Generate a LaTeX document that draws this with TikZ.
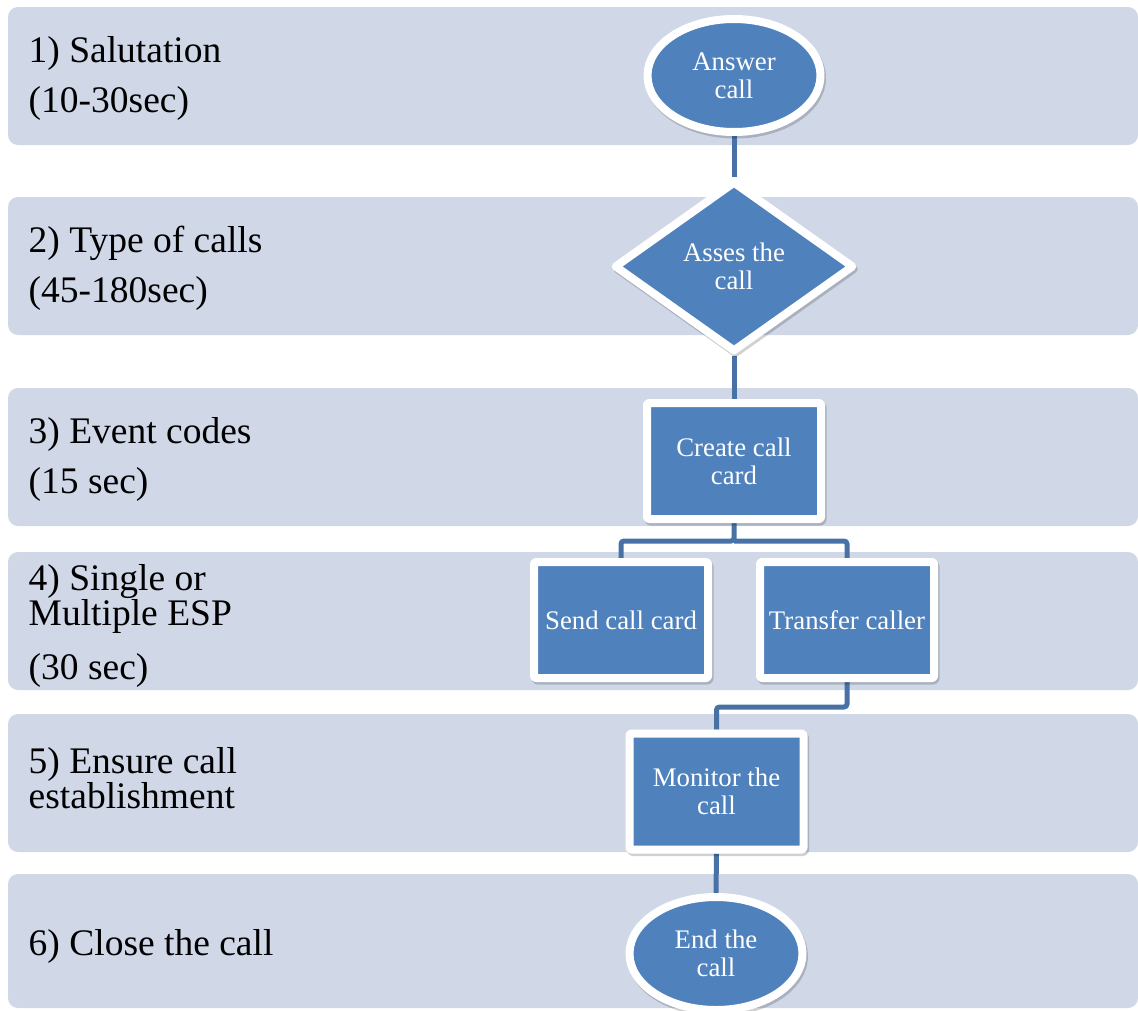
\documentclass[tikz,border=0pt]{standalone}
\usepackage{fontspec}
\setmainfont{Liberation Serif}
\usetikzlibrary{shapes.geometric,shadows}

\definecolor{bandfill}{RGB}{208,216,232}
\definecolor{boxfill}{RGB}{79,129,189}
\definecolor{linkcol}{RGB}{72,113,166}

\pgfdeclarelayer{bands}
\pgfdeclarelayer{links}
\pgfsetlayers{bands,links,main}

\begin{document}
\begin{tikzpicture}[x=1pt,y=-1pt,
  band/.style={fill=bandfill, rounded corners=10pt},
  lab/.style={anchor=base west, inner sep=0pt, text=black, align=left,
    font=\fontsize{37.5}{37.5}\selectfont},
  flowshape/.style={fill=boxfill, draw=white, line width=8pt, text=white,
    align=center, inner sep=0pt, line join=round,
    font=\fontsize{26.8}{28}\selectfont,
    general shadow={fill=black, draw=black, line width=8pt, opacity=0.18,
      shadow xshift=1.5pt, shadow yshift=-2.5pt}},
  termbox/.style={flowshape, ellipse, minimum width=173pt, minimum height=113pt},
  decbox/.style={flowshape, diamond, minimum width=240pt, minimum height=171pt},
  procbox/.style={flowshape, rectangle, rounded corners=2pt,
    minimum width=174pt, minimum height=116pt},
  link/.style={draw=linkcol, line width=5pt, rounded corners=3pt}
]
\useasboundingbox (0,0) rectangle (1138,1010);
\clip (0,0) rectangle (1138,1010);

% phase bands
\begin{pgfonlayer}{bands}
  \fill[band] (8,7)   rectangle (1138,145);
  \fill[band] (8,197) rectangle (1138,335);
  \fill[band] (8,388) rectangle (1138,526);
  \fill[band] (8,552) rectangle (1138,690);
  \fill[band] (8,714) rectangle (1138,852);
  \fill[band] (8,874) rectangle (1138,1008);
\end{pgfonlayer}

% phase labels (multi-line labels sit on the baseline of their last line)
\node[lab] (l1a) at (28.5,62)  {1) Salutation};
\node[lab] (l1b) at (28.5,112) {(10-30sec)};
\node[lab] (l2a) at (28.5,252) {2) Type of calls};
\node[lab] (l2b) at (28.5,302) {(45-180sec)};
\node[lab] (l3a) at (28.5,443) {3) Event codes};
\node[lab] (l3b) at (28.5,493) {(15 sec)};
\node[lab,font=\fontsize{37.5}{35}\selectfont] (l4a) at (28.5,625)
  {4) Single or\\Multiple ESP};
\node[lab] (l4c) at (28.5,679) {(30 sec)};
\node[lab,font=\fontsize{37.5}{33}\selectfont] (l5a) at (28.5,808)
  {5) Ensure call\\establishment};
\node[lab] (l6a) at (28.5,955) {6) Close the call};

% flow nodes
\node[termbox]  (answer)   at (734,75.5)  {Answer\\call};
\node[decbox]   (assess)   at (734,266.5) {Asses the\\call};
\node[procbox]  (create)   at (734,461)   {Create call\\card};
\node[procbox]  (send)     at (621,620)   {Send call card};
\node[procbox]  (transfer) at (847,620)   {Transfer caller};
\node[procbox]  (monitor)  at (716.5,791.5) {Monitor the\\call};
\node[termbox]  (endcall)  at (716,953.5) {End the\\call};

\coordinate (fork) at (734,541);
\coordinate (merge) at (847,707);

% connectors
\begin{pgfonlayer}{links}
  \draw[link] (answer.south) -- (assess.north);
  \draw[link] (assess.south) -- (create.north);
  \draw[link] (create.south) -- (fork) -| (send.north);
  \draw[link] (fork) -| (transfer.north);
  \draw[link] (transfer.south) -- (merge) -| (monitor.north);
  \draw[link] (monitor.south) -- (endcall.north);
\end{pgfonlayer}
\end{tikzpicture}
\end{document}
